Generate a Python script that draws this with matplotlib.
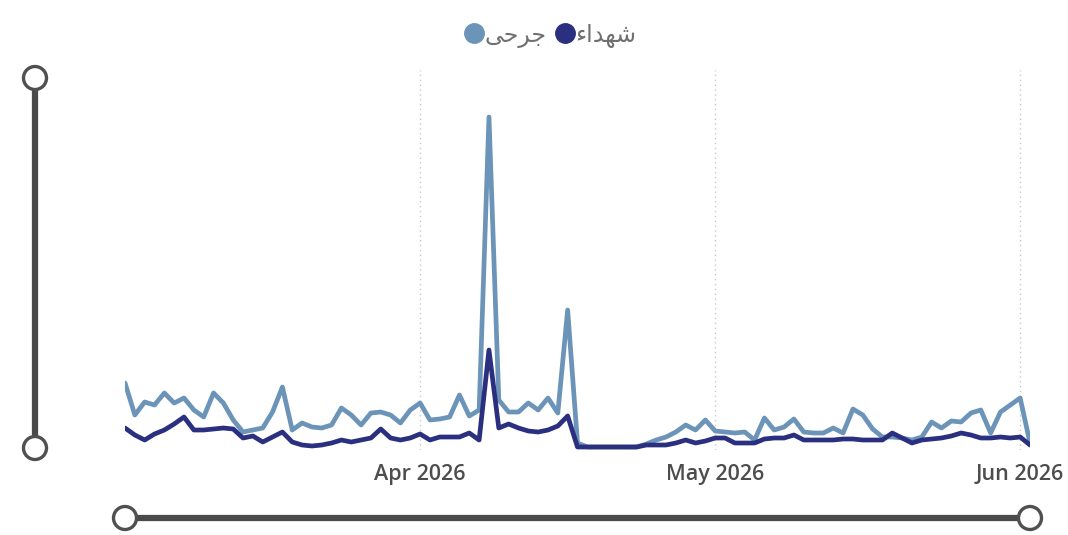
import matplotlib
matplotlib.use("Agg")
import matplotlib.pyplot as plt
import matplotlib.dates as mdates
from matplotlib.patches import Circle
import pandas as pd

# daily values, 2 Mar 2026 -> 2 Jun 2026
start_date = "2026-03-02"
end_date = "2026-06-02"

wounded = [64, 32, 45, 42, 54, 44, 49, 37, 30, 54,
           44, 27, 15, 17, 19, 35, 60, 17, 24, 20,
           19, 22, 39, 32, 22, 34, 35, 32, 24, 37,
           44, 27, 28, 30, 52, 31, 37, 330, 47, 35,
           35, 44, 37, 49, 34, 137, 4, 0, 0, 0,
           0, 0, 0, 3, 7, 10, 15, 22, 17, 27,
           16, 15, 14, 15, 7, 29, 17, 20, 28, 15,
           14, 14, 19, 14, 38, 32, 18, 10, 10, 9,
           7, 10, 25, 19, 26, 25, 34, 37, 14, 35,
           42, 49, 4]

killed = [19, 12, 7, 13, 17, 23, 30, 17, 17, 18,
          19, 18, 9, 11, 5, 10, 15, 5, 2, 1,
          2, 4, 7, 5, 7, 9, 18, 9, 7, 9,
          13, 7, 10, 10, 10, 14, 7, 97, 19, 23,
          19, 16, 15, 17, 21, 31, 0, 0, 0, 0,
          0, 0, 0, 2, 2, 2, 4, 7, 4, 6,
          9, 9, 4, 4, 4, 8, 9, 9, 12, 7,
          7, 7, 7, 8, 8, 7, 7, 7, 14, 9,
          4, 7, 8, 9, 11, 14, 12, 9, 9, 10,
          9, 10, 2]

# legend labels, already shaped (presentation forms, visual order)
label_wounded = "\uFEF0\uFEA3\uFEAE\uFE9F"   # جرحى
label_killed = "\uFE80\uFE8D\uFEAA\uFEEC\uFEB7"  # شهداء

col_wounded = "#6b94b8"
col_killed = "#2b2f80"
col_slider = "#4a4a4a"

dates = pd.date_range(start_date, end_date, freq="D")

W, H = 1068, 535
fig = plt.figure(figsize=(W / 100, H / 100), dpi=100)
fig.patch.set_facecolor("white")

# main plot area in pixels: x 125..1030, y 70..450
ax = fig.add_axes([125 / W, (H - 450) / H, 905 / W, 380 / H])
ax.plot(dates, wounded, color=col_wounded, lw=3.4, solid_joinstyle="round",
        solid_capstyle="round", label=label_wounded, zorder=3)
ax.plot(dates, killed, color=col_killed, lw=3.4, solid_joinstyle="round",
        solid_capstyle="round", label=label_killed, zorder=4)

ax.set_xlim(dates[0], dates[-1])
ax.set_ylim(-3, 377)
ax.xaxis.set_major_locator(mdates.MonthLocator())
ax.xaxis.set_major_formatter(mdates.DateFormatter("%b %Y"))
ax.set_yticks([])
ax.tick_params(axis="x", length=0, pad=10, labelsize=15.5, labelcolor="#4d4d4d")
for lab in ax.get_xticklabels():
    lab.set_fontfamily("Open Sans")
    lab.set_fontweight("semibold")
ax.grid(axis="x", linestyle=(0, (1, 2.5)), color="#c8c8c8", lw=1)
for s in ax.spines.values():
    s.set_visible(False)
ax.set_facecolor("none")

h_w = plt.Line2D([], [], color=col_wounded, marker="o", ls="none", markersize=14)
h_k = plt.Line2D([], [], color=col_killed, marker="o", ls="none", markersize=14)
leg = fig.legend([h_w, h_k], [label_wounded, label_killed], ncol=2,
                 loc="center", bbox_to_anchor=(550 / W, 1 - 35 / H),
                 frameon=False, handletextpad=0.0, columnspacing=0.3,
                 handlelength=0.9, prop={"family": "DejaVu Sans", "size": 17})
for t in leg.get_texts():
    t.set_color("#707070")

# slider decorations drawn in pixel space
over = fig.add_axes([0, 0, 1, 1], zorder=-1)
over.set_xlim(0, W)
over.set_ylim(H, 0)
over.axis("off")
over.plot([35, 35], [78, 448], color=col_slider, lw=4.5, solid_capstyle="butt")
over.plot([125, 1030], [518, 518], color=col_slider, lw=4.5, solid_capstyle="butt")
for cx, cy in [(35, 78), (35, 448), (125, 518), (1030, 518)]:
    over.add_patch(Circle((cx, cy), 11.5, facecolor="white", edgecolor="#505050", lw=2.4, zorder=5))

fig.savefig("out.png", dpi=100, facecolor="white")
